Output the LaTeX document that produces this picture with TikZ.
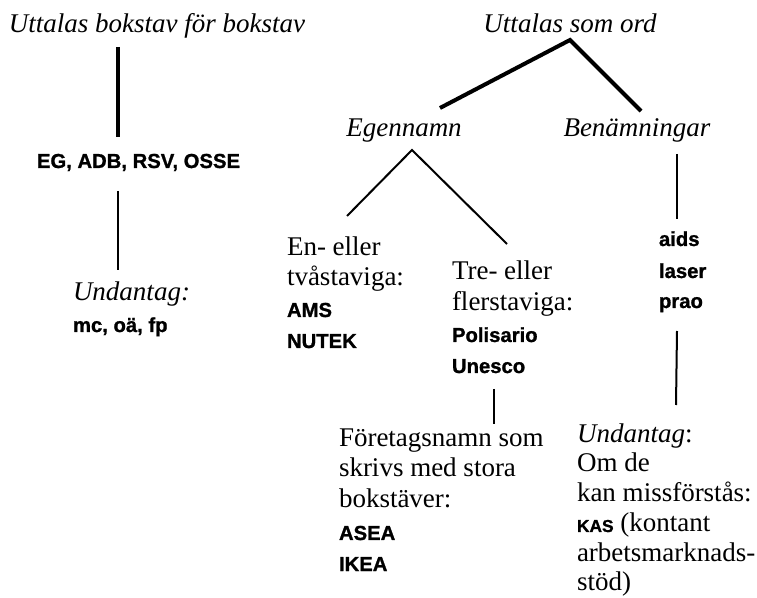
\documentclass[tikz,border=0pt]{standalone}
\usepackage{fontspec}
\setmainfont{Liberation Serif}
\setsansfont{Liberation Sans}
\newfontfamily\heavysans[FakeBold=1.1]{Liberation Sans}
\newdimen\pxu \pxu=0.75pt
\newcommand\sv[1]{{\heavysans\bfseries\fontsize{15.2}{18}\selectfont #1}}
\newcommand\svs[1]{{\heavysans\bfseries\fontsize{13}{16}\selectfont #1}}
\newcommand\rowat[2]{\lineskiplimit=-\maxdimen\baselineskip=#1\pxu\hbox{#2}}
\tikzset{
  txt/.style={inner sep=0pt, outer sep=0pt, font=\fontsize{20.25}{21.75}\selectfont},
  blockw/.style={txt, anchor=base west},
  blockc/.style={txt, anchor=base},
  heavyrule/.style={line width=3pt},
  lightrule/.style={line width=1.5pt}
}
\begin{document}
\begin{tikzpicture}[x=0.75pt, y=-0.75pt]
\useasboundingbox[fill=white] (0,0) rectangle (757,598);

% left tree
\node[blockc] (t1) at (157,33) {\itshape Uttalas bokstav för bokstav};
\node[blockc] (eg) at (138.5,168) {\sv{EG, ADB, RSV, OSSE}};
\node[blockw] (u1) at (73,301) {\vtop{\hbox{\itshape Undantag:}\rowat{31}{\sv{mc, oä, fp}}}};

\draw[heavyrule] ([shift={(-39,14)}]t1.base) -- ([shift={(-20.5,-31)}]eg.base);
\draw[lightrule] ([shift={(-20.5,23)}]eg.base) -- ([shift={(45,-31)}]u1.base west);

% right tree
\node[blockc] (t2) at (570,33) {\itshape Uttalas som ord};
\node[blockc] (egn) at (404,137) {\itshape Egennamn};
\node[blockc] (ben) at (637,137) {\itshape Benämningar};

\draw[heavyrule] ([shift={(36,-29)}]egn.base) -- ([shift={(0,7)}]t2.base) -- ([shift={(4,-26)}]ben.base);

\node[blockw] (en) at (287,256) {\vtop{\hbox{En- eller}\rowat{30}{tvåstaviga:}\rowat{31}{\sv{AMS}}\rowat{31}{\sv{NUTEK}}}};
\node[blockw] (tre) at (452,280) {\vtop{\hbox{Tre- eller}\rowat{31}{flerstaviga:}\rowat{31}{\sv{Polisario}}\rowat{31}{\sv{Unesco}}}};

\draw[lightrule] ([shift={(60,-40)}]en.base west) -- ([shift={(8,13)}]egn.base) -- ([shift={(55,-36)}]tre.base west);

\node[blockw] (aids) at (659,246) {\vtop{\hbox{\sv{aids}}\rowat{32}{\sv{laser}}\rowat{30}{\sv{prao}}}};
\draw[lightrule] ([shift={(40,17)}]ben.base) -- ([shift={(18,-27)}]aids.base west);

\node[blockw] (fo) at (339,447) {\vtop{\hbox{Företagsnamn som}\rowat{30}{skrivs med stora}\rowat{31}{bokstäver:}\rowat{32}{\sv{ASEA}}\rowat{31}{\sv{IKEA}}}};
\draw[lightrule] ([shift={(155,-58)}]fo.base west) -- ([shift={(155,-23)}]fo.base west);

\node[blockw] (u2) at (577,443) {\vtop{\hbox{\textit{Undantag}:}\rowat{29}{Om de}\rowat{30}{kan missförstås:}\rowat{30}{\svs{KAS} (kontant}\rowat{30}{arbetsmarknads-}\rowat{29}{stöd)}}};
\draw[lightrule] ([shift={(18,85)}]aids.base west) -- ([shift={(99,-38)}]u2.base west);
\end{tikzpicture}
\end{document}
